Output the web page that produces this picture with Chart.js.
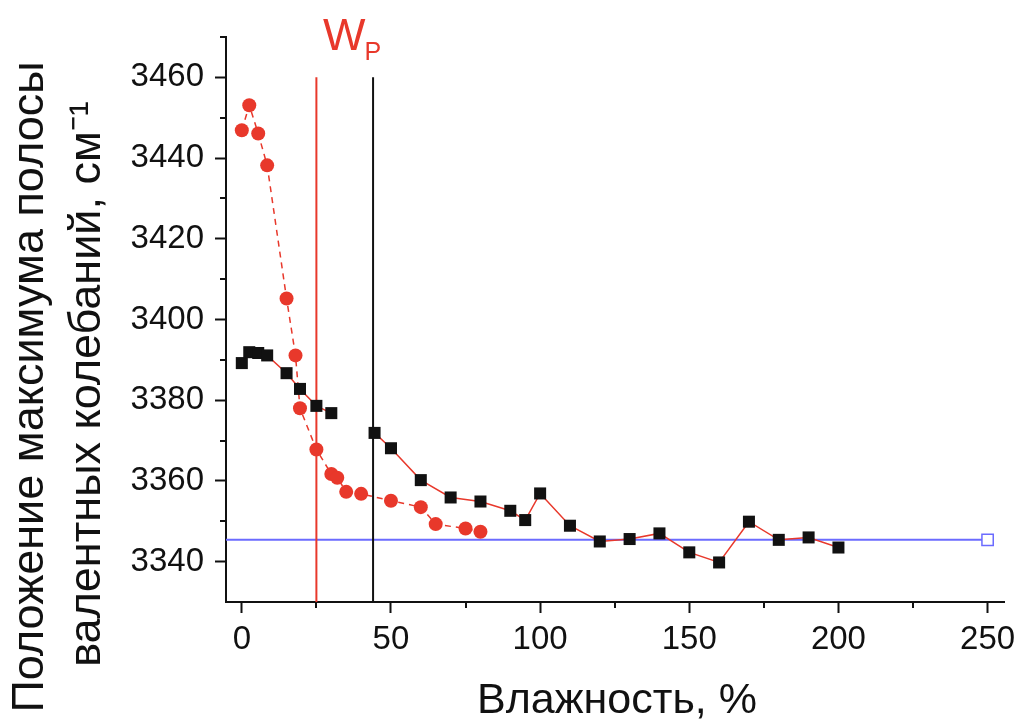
<!DOCTYPE html>
<html>
<head>
<meta charset="utf-8">
<script src="https://cdn.jsdelivr.net/npm/chart.js@4/dist/chart.umd.min.js"></script>
<style>
  html, body { margin: 0; padding: 0; background: #fff; }
  #wrap { width: 1022px; height: 724px; }
</style>
</head>
<body>
<div id="wrap"><canvas id="grafico" width="1022" height="724"></canvas></div>
<script>
// serie 1 (cuadrados negros, línea roja continua); null = hueco en la línea
const blackX = [0, 2.5, 5.5, 8.5, 15, 19.5, 25, 30, 37, 44.5, 50, 60, 70, 80, 90, 95, 100, 110, 120, 130, 140, 150, 160, 170, 180, 190, 200];
const blackY = [3389.2, 3391.9, 3391.7, 3391.1, 3386.7, 3382.8, 3378.6, 3376.8, null, 3371.9, 3368.1, 3360.2, 3355.9, 3354.9, 3352.6, 3350.3, 3356.9, 3348.9, 3345.0, 3345.6, 3347.0, 3342.3, 3339.8, 3349.9, 3345.4, 3346.0, 3343.5];

// serie 2 (círculos rojos, línea discontinua)
const redX = [0, 2.5, 5.5, 8.5, 15, 18, 19.5, 25, 30, 32, 35, 40, 50, 60, 65, 75, 80];
const redY = [3446.9, 3453.1, 3446.1, 3438.2, 3405.2, 3391.1, 3378.0, 3367.8, 3361.7, 3360.8, 3357.3, 3356.8, 3355.1, 3353.5, 3349.3, 3348.2, 3347.4];

// línea horizontal azul
const blueX = [-5.3, 250];
const blueY = [3345.4, 3345.4];

// líneas verticales (W_P)
const wpRedX = 25;
const wpBlackX = 44;
const wpYRange = [3330, 3460];

// ejes
const xRange = [-5.3, 255.5];
const yRange = [3330, 3470];
const xMajor = [0, 50, 100, 150, 200, 250];
const xMinor = [25, 75, 125, 175, 225];
const yMajor = [3340, 3360, 3380, 3400, 3420, 3440, 3460];
const yMinor = [3350, 3370, 3390, 3410, 3430, 3450, 3470];

const xTitle = "Влажность, %";
const yTitle = ["Положение максимума полосы", "валентных колебаний, см⁻¹"];

const rojo = "#e8382b";
const azul = "#6b6bff";
const negro = "#111111";
const fuente = '"Liberation Sans", Arial, sans-serif';

const toPoints = (xs, ys) => xs.map((x, i) => ({ x: x, y: ys[i] }));

const extras = {
    id: "extras",
    afterDraw(chart) {
        const ctx = chart.ctx;
        const xs = chart.scales.x;
        const ys = chart.scales.y;
        ctx.save();

        // ticks menores
        ctx.strokeStyle = negro;
        ctx.lineWidth = 2;
        ctx.beginPath();
        xMinor.forEach(v => {
            const p = Math.round(xs.getPixelForValue(v));
            ctx.moveTo(p, xs.top);
            ctx.lineTo(p, xs.top + 6);
        });
        yMinor.forEach(v => {
            const p = Math.round(ys.getPixelForValue(v));
            ctx.moveTo(ys.right, p);
            ctx.lineTo(ys.right - 6, p);
        });
        ctx.stroke();

        // títulos de los ejes
        ctx.fillStyle = negro;
        ctx.textAlign = "center";
        ctx.textBaseline = "alphabetic";
        ctx.font = "43px " + fuente;
        ctx.fillText(xTitle, (xs.left + xs.right) / 2 + 2, 713);

        ctx.font = "45px " + fuente;
        ctx.save();
        ctx.translate(43, 387);
        ctx.rotate(-Math.PI / 2);
        ctx.fillText(yTitle[0], 0, 0);
        ctx.restore();
        ctx.save();
        ctx.translate(100, 384);
        ctx.rotate(-Math.PI / 2);
        ctx.fillText(yTitle[1], 0, 0);
        ctx.restore();

        // etiqueta W_P
        ctx.fillStyle = rojo;
        ctx.textAlign = "left";
        ctx.font = "45px " + fuente;
        const wx = xs.getPixelForValue(27.2);
        ctx.fillText("W", wx, 50);
        const ww = ctx.measureText("W").width;
        ctx.font = "25px " + fuente;
        ctx.fillText("P", wx + ww - 1, 60);

        ctx.restore();
    }
};

const ctx = document.getElementById("grafico").getContext("2d");

new Chart(ctx, {
    type: "line",
    data: {
        datasets: [
            {
                data: toPoints(blackX, blackY),
                borderColor: rojo,
                borderWidth: 1.5,
                backgroundColor: negro,
                pointStyle: "rect",
                pointRadius: 8.5,
                pointBorderWidth: 0,
                pointBackgroundColor: negro,
                spanGaps: false
            },
            {
                data: toPoints(redX, redY),
                borderColor: rojo,
                borderWidth: 1.5,
                borderDash: [6, 5],
                pointStyle: "circle",
                pointRadius: 7,
                pointBorderWidth: 0,
                pointBackgroundColor: rojo
            },
            {
                data: [{ x: wpRedX, y: wpYRange[0] }, { x: wpRedX, y: wpYRange[1] }],
                borderColor: rojo,
                borderWidth: 2,
                pointRadius: 0
            },
            {
                data: [{ x: wpBlackX, y: wpYRange[0] }, { x: wpBlackX, y: wpYRange[1] }],
                borderColor: negro,
                borderWidth: 2,
                pointRadius: 0
            },
            {
                data: toPoints(blueX, blueY),
                borderColor: azul,
                borderWidth: 2,
                pointStyle: "rect",
                pointRadius: c => (c.dataIndex === blueX.length - 1 ? 8 : 0),
                pointBorderWidth: 1.5,
                pointBorderColor: azul,
                pointBackgroundColor: "#ffffff"
            }
        ]
    },
    options: {
        responsive: false,
        animation: false,
        devicePixelRatio: 1,
        layout: { padding: { top: 37, right: 18, left: 0, bottom: 0 } },
        plugins: {
            legend: { display: false },
            tooltip: { enabled: false }
        },
        elements: { line: { tension: 0 } },
        scales: {
            x: {
                type: "linear",
                min: xRange[0],
                max: xRange[1],
                afterBuildTicks: s => { s.ticks = xMajor.map(v => ({ value: v })); },
                afterFit: s => { s.height = 122; s.paddingLeft = 0; s.paddingRight = 0; },
                grid: { display: true, drawOnChartArea: false, drawTicks: true, tickLength: 11, tickWidth: 2, tickColor: negro },
                border: { display: true, color: negro, width: 2 },
                ticks: { color: negro, padding: 7, maxRotation: 0, autoSkip: false, callback: v => String(v), font: { family: fuente, size: 33 } }
            },
            y: {
                type: "linear",
                min: yRange[0],
                max: yRange[1],
                afterBuildTicks: s => { s.ticks = yMajor.map(v => ({ value: v })); },
                afterFit: s => { s.width = 226; s.paddingTop = 0; s.paddingBottom = 0; },
                grid: { display: true, drawOnChartArea: false, drawTicks: true, tickLength: 11, tickWidth: 2, tickColor: negro },
                border: { display: true, color: negro, width: 2 },
                ticks: { color: negro, padding: 11, autoSkip: false, callback: v => String(v), font: { family: fuente, size: 33 } }
            }
        }
    },
    plugins: [extras]
});
</script>
</body>
</html>
